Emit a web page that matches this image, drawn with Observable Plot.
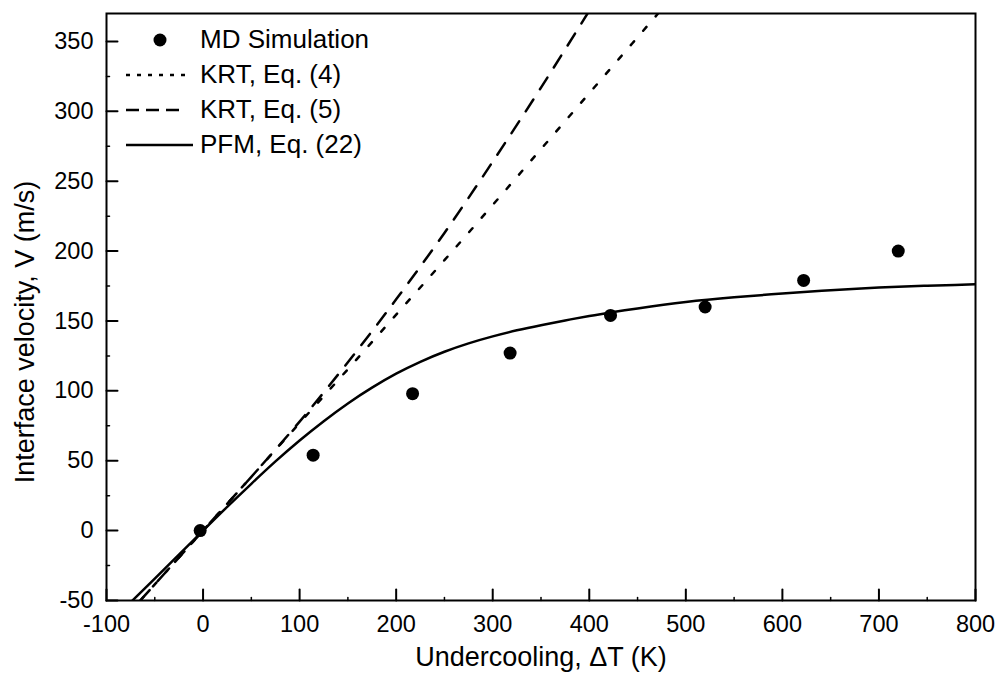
<!DOCTYPE html>
<html><head><meta charset="utf-8">
<script src="https://cdn.jsdelivr.net/npm/d3@7"></script>
<script src="https://cdn.jsdelivr.net/npm/@observablehq/plot@0.6"></script>
<style>
body{margin:0;background:#fff}
#wrap{position:relative;width:998px;height:673px;font-family:"Liberation Sans",Arial,sans-serif}
#legend{position:absolute;left:0;top:0;pointer-events:none}
</style>
</head><body><div id="wrap"></div>
<script>
// ---- data ----
const xTicks = [-100, 0, 100, 200, 300, 400, 500, 600, 700, 800];
const xMinor = [-50, 50, 150, 250, 350, 450, 550, 650, 750];
const yTicks = [-50, 0, 50, 100, 150, 200, 250, 300, 350];
const yMinor = [-25, 25, 75, 125, 175, 225, 275, 325];

const mdX = [-3, 114, 217, 318, 422, 520, 622, 720];
const mdY = [0, 54, 98, 127, 154, 160, 179, 200];

const pfmX = [-75, -50, -25, 0, 25, 50, 75, 100, 125, 150, 175, 200, 225, 250, 275, 300, 325, 350, 375, 400, 425, 450, 500, 550, 600, 650, 700, 750, 800];
const pfmY = [-51.3, -34.3, -17.2, 0, 17, 33.5, 49.5, 64.5, 78.3, 91, 102.3, 112.3, 120.8, 128, 134, 139, 143.3, 147, 150.4, 153.5, 156.4, 159, 163.5, 166.9, 169.7, 172, 173.9, 175.2, 176.2];

const krt4X = [-65, 0, 50, 100, 150, 200, 250, 300, 350, 400, 450, 475];
const krt4Y = [-50, 0, 38.5, 77, 115.5, 154.5, 193.5, 233, 273, 313, 353, 373];

const krt5X = [-65, 0, 50, 100, 150, 200, 250, 300, 350, 400];
const krt5Y = [-50, 0, 38.5, 78, 120.5, 165.5, 213, 264, 317, 372];

const legendLabels = ["MD Simulation", "KRT, Eq. (4)", "KRT, Eq. (5)", "PFM, Eq. (22)"];
const xLabel = "Undercooling, \u0394T (K)";
const yLabel = "Interface velocity, V (m/s)";

// ---- build tables ----
const md = mdX.map((x, i) => ({x, y: mdY[i]}));
const pfm = pfmX.map((x, i) => ({x, y: pfmY[i]}));
const krt4 = krt4X.map((x, i) => ({x, y: krt4Y[i]}));
const krt5 = krt5X.map((x, i) => ({x, y: krt5Y[i]}));

const tickShape = {draw(ctx, l) { ctx.moveTo(0, 0); ctx.lineTo(0, -l); }};
const font = "Liberation Sans, Arial, sans-serif";

const chart = Plot.plot({
  width: 998, height: 673,
  marginLeft: 106, marginRight: 23, marginTop: 13, marginBottom: 73,
  style: {fontFamily: font, background: "white", color: "black"},
  x: {domain: [-100, 800]},
  y: {domain: [-50, 370]},
  marks: [
    Plot.line(krt4, {x: "x", y: "y", stroke: "black", strokeWidth: 2.5, strokeDasharray: "5,14", curve: "monotone-x", clip: true}),
    Plot.line(krt5, {x: "x", y: "y", stroke: "black", strokeWidth: 2.5, strokeDasharray: "14,12", curve: "monotone-x", clip: true}),
    Plot.line(pfm, {x: "x", y: "y", stroke: "black", strokeWidth: 2.5, curve: "natural", clip: true}),
    Plot.dot(md, {x: "x", y: "y", r: 6.5, fill: "black", stroke: "none"}),
    Plot.frame({stroke: "black", strokeWidth: 2}),
    Plot.vector(xTicks, {x: d => d, frameAnchor: "bottom", length: 11, rotate: 0, anchor: "start", shape: tickShape, stroke: "black", strokeWidth: 2}),
    Plot.vector(xMinor, {x: d => d, frameAnchor: "bottom", length: 3, rotate: 0, anchor: "start", shape: tickShape, stroke: "black", strokeWidth: 1.5}),
    Plot.vector(yTicks, {y: d => d, frameAnchor: "left", length: 11, rotate: 90, anchor: "start", shape: tickShape, stroke: "black", strokeWidth: 2}),
    Plot.vector(yMinor, {y: d => d, frameAnchor: "left", length: 3, rotate: 90, anchor: "start", shape: tickShape, stroke: "black", strokeWidth: 1.5}),
    Plot.axisX({ticks: xTicks, tickSize: 0, tickPadding: 15, fontSize: 23.5, label: null, tickFormat: d => String(d)}),
    Plot.axisY({ticks: yTicks, tickSize: 0, tickPadding: 13, fontSize: 23.5, label: null, tickFormat: d => String(d)}),
    Plot.text([xLabel], {frameAnchor: "bottom", textAnchor: "middle", dy: 57, fontSize: 27, lineAnchor: "middle", fill: "black"}),
    Plot.text([yLabel], {frameAnchor: "left", textAnchor: "middle", rotate: -90, dx: -81, dy: 25, fontSize: 27, lineAnchor: "middle", fill: "black"})
  ]
});
const wrap = document.getElementById("wrap");
wrap.appendChild(chart);

// ---- legend overlay ----
const lg = d3.select(wrap).append("svg").attr("id", "legend").attr("width", 998).attr("height", 673);
const styles = [
  {type: "dot"},
  {type: "line", dash: "4,7", x2: 186},
  {type: "line", dash: "13,7", x2: 186},
  {type: "line", dash: null, x2: 193}
];
legendLabels.forEach((label, i) => {
  const cy = 40 + i * 35;
  const s = styles[i];
  if (s.type === "dot") {
    lg.append("circle").attr("cx", 160).attr("cy", cy).attr("r", 6.5).attr("fill", "black");
  } else {
    const ln = lg.append("line").attr("x1", 126).attr("x2", s.x2).attr("y1", cy).attr("y2", cy)
      .attr("stroke", "black").attr("stroke-width", 2.5);
    if (s.dash) ln.attr("stroke-dasharray", s.dash);
  }
  lg.append("text").attr("x", 200).attr("y", cy + 7.5)
    .attr("font-size", 26).attr("font-family", font).attr("fill", "black").text(label);
});
</script>
</body></html>
